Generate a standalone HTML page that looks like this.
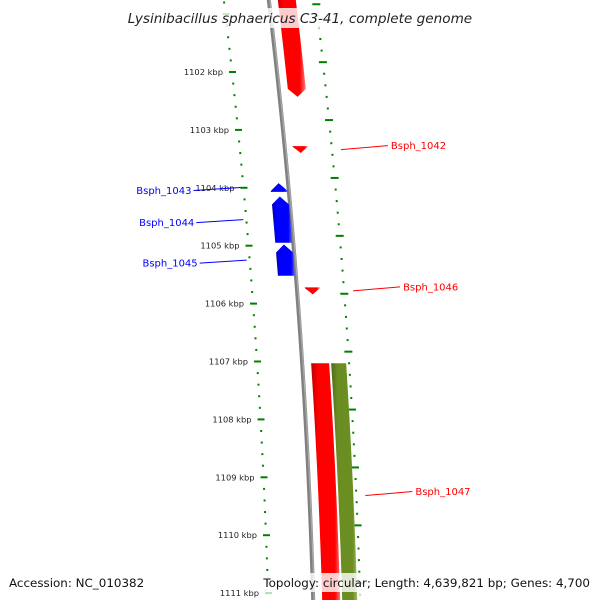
<!DOCTYPE html>
<html><head><meta charset="utf-8"><style>
html,body{margin:0;padding:0;background:#fff;}
svg{display:block;font-family:"DejaVu Sans","Liberation Sans",sans-serif;}
</style></head><body>
<svg id="map" width="600" height="600" viewBox="0 0 600 600" xmlns="http://www.w3.org/2000/svg">
<defs>
<linearGradient id="gRed" x1="0" y1="0" x2="1" y2="0"><stop offset="0" stop-color="#c00000"/><stop offset="0.25" stop-color="#ff0000"/><stop offset="0.8" stop-color="#ff0000"/><stop offset="1" stop-color="#ff8080"/></linearGradient>
<linearGradient id="gBlue" x1="0" y1="0" x2="1" y2="0"><stop offset="0" stop-color="#0000b0"/><stop offset="0.25" stop-color="#0000ff"/><stop offset="0.8" stop-color="#0000ff"/><stop offset="1" stop-color="#6060ff"/></linearGradient>
<linearGradient id="gOlive" x1="0" y1="0" x2="1" y2="0"><stop offset="0" stop-color="#4f6a18"/><stop offset="0.25" stop-color="#6b8e23"/><stop offset="0.8" stop-color="#6b8e23"/><stop offset="1" stop-color="#a8c070"/></linearGradient>
</defs>
<g id="layer"></g>
</svg>
<script>
// data
const majorTicks = [1102, 1103, 1104, 1105, 1106, 1107, 1108, 1109, 1110, 1111];
const geneNames = ["", "Bsph_1042", "Bsph_1043", "Bsph_1044", "Bsph_1045", "Bsph_1046", "Bsph_1047", ""];
const geneStart = [1100.5, 1103.28, 1103.92, 1104.15, 1104.98, 1105.72, 1107.03, 1107.03];
const geneEnd = [1102.43, 1103.40, 1104.07, 1104.95, 1105.52, 1105.84, 1111.6, 1111.6];
const geneStrand = [-1, -1, 1, 1, 1, -1, -1, 0];
const geneKind = ["cds", "cds", "cds", "cds", "cds", "cds", "cds", "rna"];

// axis functions
const KBP0 = 1102, Y0 = 72, PXK = 57.9;
function yOf(k){ return Y0 + (k - KBP0) * PXK; }
function kOf(y){ return KBP0 + (y - Y0) / PXK; }
function baseX(y){ return 223.8 + 0.119*y - 0.000075*y*y; }
const NS = "http://www.w3.org/2000/svg";
const layer = document.getElementById('layer');
function mk(tag, attrs, parent){
  const e = document.createElementNS(NS, tag);
  for (const k in attrs) e.setAttribute(k, attrs[k]);
  (parent||layer).appendChild(e); return e;
}

// backbone
{
  let pts=[];
  for(let y=-5;y<=605;y+=5) pts.push((baseX(y)+45)+","+y);
  const bb = mk('polyline',{points:pts.join(' '),fill:'none',stroke:'#808080','stroke-width':4});
  
  
  let pts2=[];
  for(let y=-5;y<=605;y+=5) pts2.push((baseX(y)+46)+","+y);
  mk('polyline',{points:pts2.join(' '),fill:'none',stroke:'#aaa','stroke-width':1.2});
}

// left ticks
const kMin = kOf(0), kMax = kOf(600);
for (let i = Math.ceil(kMin*5); i <= Math.floor(kMax*5); i++) {
  const k = i/5, y = yOf(k), x = baseX(y);
  const major = (i % 5 === 0);
  const faded = y > 585;
  const t = mk('line',{x1:x-(major?3:1),y1:y,x2:x+(major?4:1),y2:y,stroke:faded?'#b8dcb8':'#008000','stroke-width':2});
  
  
}
majorTicks.forEach(k=>{
  const y = yOf(k), x = baseX(y);
  const lb = mk('text',{x:x-9,y:y+3,'text-anchor':'end','font-size':8.3,fill:'#222'});
  lb.textContent = k + " kbp";
  
  
});
// right ticks
for (let i = Math.ceil((kMin+0.17)*5); i <= Math.floor((kMax+0.17)*5); i++) {
  const k = i/5 - 0.17, y = yOf(k), x = baseX(y) + 92;
  const major = (i % 5 === 0);
  const faded = y > 585;
  const t = mk('line',{x1:x-(major?4:1),y1:y,x2:x+(major?4:1),y2:y,stroke:faded?'#b8dcb8':'#008000','stroke-width':2});
  
  
}

// genes
geneStart.forEach((s,i)=>{
  const e = geneEnd[i], st = geneStrand[i];
  let lo, hi, fill;
  if (geneKind[i]==='rna'){ lo=74; hi=89; fill='url(#gOlive)'; }
  else if (st>0){ lo=27; hi=44; fill='url(#gBlue)'; }
  else { lo = (e-s>1)? 54 : 53; hi = (e-s>1)? 72 : 68; fill='url(#gRed)'; }
  const y1 = yOf(s), y2 = yOf(e);
  const head = st===0 ? 0 : Math.min(8, (y2-y1)*0.9);
  const left=[], right=[];
  const bodyA = st>0 ? y1+head : y1, bodyB = st<0 ? y2-head : y2;
  const n=10;
  for(let j=0;j<=n;j++){ const y=bodyA+(bodyB-bodyA)*j/n; left.push([baseX(y)+lo,y]); right.push([baseX(y)+hi,y]); }
  let pts=[];
  if (st>0){ pts.push([baseX(y1)+(lo+hi)/2,y1]); }
  pts = pts.concat(right);
  if (st<0){ pts.push([baseX(y2)+(lo+hi)/2,y2]); }
  pts = pts.concat(left.reverse());
  const g = mk('polygon',{points:pts.map(p=>p.join(',')).join(' '),fill:fill});
  
  
  if (geneNames[i]){
    const ym = Math.min((y1+y2)/2, 503), color = st>0?'#0000ff':'#ff0000';
    let lx1, lx2, tx, anchor, ly;
    if (st>0){ lx1 = baseX(ym)-3; lx2 = lx1-47; tx = lx2-2; anchor='end'; ly = ym+3; }
    else { lx1 = baseX(ym)+101; lx2 = lx1+47; tx = lx2+3; anchor='start'; ly = ym-4; }
    const ln = mk('line',{x1:lx1,y1:ym,x2:lx2,y2:ly,stroke:color,'stroke-width':1});
    
    
    const t = mk('text',{x:tx,y:ly+3.5,'text-anchor':anchor,'font-size':10,fill:color});
    t.textContent = geneNames[i];
    
    
  }
});

// title & footer
const tb = mk('rect',{x:123,y:8,width:354,height:20,fill:'#fff','fill-opacity':0.8});


const title = mk('text',{x:300,y:23,'text-anchor':'middle','font-size':13.6,'font-style':'italic',fill:'#222'});
title.textContent = "Lysinibacillus sphaericus C3-41, complete genome";


const fb = mk('rect',{x:258,y:573,width:336,height:19,fill:'#fff','fill-opacity':0.8});


const acc = mk('text',{x:9,y:587,'font-size':11.9,fill:'#111'});
acc.textContent = "Accession: NC_010382";


const topo = mk('text',{x:590,y:587,'text-anchor':'end','font-size':11.9,fill:'#111'});
topo.textContent = "Topology: circular; Length: 4,639,821 bp; Genes: 4,700";


</script>
</body></html>
